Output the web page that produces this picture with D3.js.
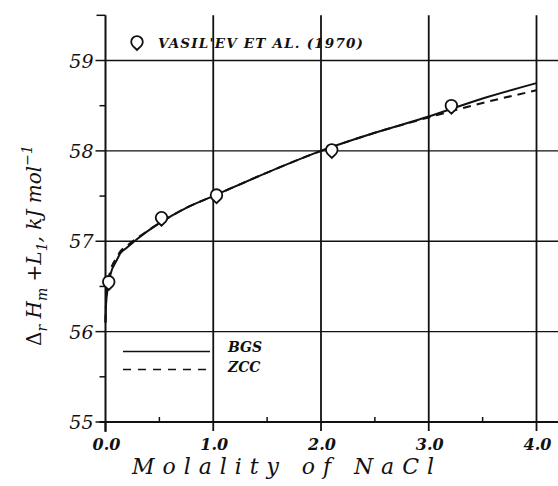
<!DOCTYPE html>
<html>
<head>
<meta charset="utf-8">
<script src="https://cdn.jsdelivr.net/npm/d3@7/dist/d3.min.js"></script>
<style>
  body { margin: 0; background: #fff; }
  svg { display: block; }
  text { font-family: "DejaVu Serif", "Liberation Serif", serif; fill: #111; }
</style>
</head>
<body>
<div id="chart"></div>
<script>
// molality of NaCl (mol/kg)
const molality = [0.0, 0.005, 0.02, 0.05, 0.1, 0.14, 0.2, 0.3, 0.5, 0.75, 1.0, 1.5, 2.0, 2.5, 3.0, 3.5, 4.0];
// BGS model, kJ/mol
const bgsValues = [56.1, 56.3, 56.47, 56.65, 56.78, 56.87, 56.93, 57.03, 57.2, 57.37, 57.5, 57.76, 58.0, 58.2, 58.38, 58.58, 58.75];
// ZCC model, kJ/mol
const zccValues = [56.1, 56.33, 56.52, 56.69, 56.81, 56.89, 56.95, 57.04, 57.2, 57.37, 57.5, 57.76, 58.0, 58.2, 58.37, 58.53, 58.67];
// Vasil'ev et al. (1970) experiment
const vasilevM = [0.03, 0.52, 1.03, 2.1, 3.21];
const vasilevH = [56.55, 57.26, 57.51, 58.01, 58.5];

const xTicks = [0, 1, 2, 3, 4];
const xTickLabels = ["0.0", "1.0", "2.0", "3.0", "4.0"];
const yTicks = [55, 56, 57, 58, 59];
const xMinor = [0.5, 1.5, 2.5, 3.5];
const yMinor = [55.5, 56.5, 57.5, 58.5];

const width = 558, height = 486;
const svg = d3.select("#chart").append("svg")
    .attr("width", width)
    .attr("height", height);

// scales
const x = d3.scaleLinear().domain([0, 4]).range([105.5, 536.5]);
const y = d3.scaleLinear().domain([55, 59]).range([422, 60.5]);
const yTop = y(59.5);

// gridlines
svg.selectAll(".hgrid")
    .data(yTicks.filter(d => d > 55))
    .join("line")
    .attr("x1", x(0)).attr("x2", width)
    .attr("y1", d => y(d)).attr("y2", d => y(d))
    .attr("stroke", "#111").attr("stroke-width", 1.4);

svg.selectAll(".vgrid")
    .data(xTicks.filter(d => d > 0))
    .join("line")
    .attr("x1", d => x(d)).attr("x2", d => x(d))
    .attr("y1", yTop).attr("y2", y(55))
    .attr("stroke", "#111").attr("stroke-width", 1.8);

// axes lines
svg.append("line")
    .attr("x1", x(0)).attr("x2", x(0))
    .attr("y1", yTop).attr("y2", y(55) + 10)
    .attr("stroke", "#111").attr("stroke-width", 2);
svg.append("line")
    .attr("x1", x(0) - 9).attr("x2", x(0))
    .attr("y1", yTop).attr("y2", yTop)
    .attr("stroke", "#111").attr("stroke-width", 1.5);
svg.append("line")
    .attr("x1", x(0) - 6).attr("x2", width)
    .attr("y1", y(55)).attr("y2", y(55))
    .attr("stroke", "#111").attr("stroke-width", 2);

// ticks
svg.selectAll(".ytick")
    .data(yTicks)
    .join("line")
    .attr("x1", x(0) - 10).attr("x2", x(0))
    .attr("y1", d => y(d)).attr("y2", d => y(d))
    .attr("stroke", "#111").attr("stroke-width", 1.5);
svg.selectAll(".yminor")
    .data(yMinor)
    .join("line")
    .attr("x1", x(0) - 6).attr("x2", x(0))
    .attr("y1", d => y(d)).attr("y2", d => y(d))
    .attr("stroke", "#111").attr("stroke-width", 1.5);
svg.selectAll(".xtick")
    .data(xTicks)
    .join("line")
    .attr("x1", d => x(d)).attr("x2", d => x(d))
    .attr("y1", y(55)).attr("y2", y(55) + 9)
    .attr("stroke", "#111").attr("stroke-width", 1.8);
svg.selectAll(".xminor")
    .data(xMinor)
    .join("line")
    .attr("x1", d => x(d)).attr("x2", d => x(d))
    .attr("y1", y(55) - 5).attr("y2", y(55))
    .attr("stroke", "#111").attr("stroke-width", 1.5);

// tick labels
svg.selectAll(".ylab")
    .data(yTicks)
    .join("text")
    .attr("x", x(0) - 12)
    .attr("y", d => y(d) + 7)
    .attr("text-anchor", "end")
    .attr("font-size", 19)
    .attr("font-style", "italic")
    .text(d => d);

svg.selectAll(".xlab")
    .data(xTicks)
    .join("text")
    .attr("x", d => x(d) + 1)
    .attr("y", 450)
    .attr("text-anchor", "middle")
    .attr("font-size", 16)
    .attr("font-style", "italic")
    .attr("font-weight", "bold")
    .text((d, i) => xTickLabels[i]);

// axis titles
svg.append("text")
    .attr("x", 132).attr("y", 474)
    .attr("font-size", 22)
    .attr("font-style", "italic")
    .attr("textLength", 302)
    .attr("lengthAdjust", "spacing")
    .text("Molality of NaCl");

const ytitle = svg.append("text")
    .attr("transform", "translate(41,346) rotate(-90)")
    .attr("font-size", 20)
    .attr("font-style", "italic");
ytitle.append("tspan").attr("font-style", "normal").text("Δ");
ytitle.append("tspan").attr("font-size", 14).attr("dy", 6).text("r");
ytitle.append("tspan").attr("dy", -6).text(" H");
ytitle.append("tspan").attr("font-size", 14).attr("dy", 6).text("m");
ytitle.append("tspan").attr("dy", -6).text(" +L");
ytitle.append("tspan").attr("font-size", 14).attr("dy", 6).text("1");
ytitle.append("tspan").attr("dy", -6).text(", kJ mol");
ytitle.append("tspan").attr("font-size", 14).attr("dy", -9).text("−1");

// curves
const line = d3.line()
    .x((d, i) => x(molality[i]))
    .y(d => y(d))
    .curve(d3.curveMonotoneX);

svg.append("path")
    .attr("d", line(bgsValues))
    .attr("fill", "none")
    .attr("stroke", "#111")
    .attr("stroke-width", 2);

svg.append("path")
    .attr("d", line(zccValues))
    .attr("fill", "none")
    .attr("stroke", "#111")
    .attr("stroke-width", 2)
    .attr("stroke-dasharray", "8,6");

// teardrop marker
const dropPath = "M0,8 L-4.2,3.9 A5.8,5.8 0 1 1 4.2,3.9 Z";
svg.selectAll(".vas")
    .data(vasilevM)
    .join("path")
    .attr("d", dropPath)
    .attr("transform", (d, i) => `translate(${x(d)},${y(vasilevH[i])})`)
    .attr("fill", "#fff")
    .attr("stroke", "#111")
    .attr("stroke-width", 1.8);

// legend
svg.append("path")
    .attr("d", dropPath)
    .attr("transform", "translate(137,42)")
    .attr("fill", "#fff")
    .attr("stroke", "#111")
    .attr("stroke-width", 1.8);
svg.append("text")
    .attr("x", 158).attr("y", 48)
    .attr("font-size", 13.5)
    .attr("font-style", "italic")
    .attr("font-weight", "bold")
    .attr("textLength", 205)
    .attr("lengthAdjust", "spacing")
    .text("VASIL'EV ET AL. (1970)");

svg.append("line")
    .attr("x1", 123).attr("x2", 210)
    .attr("y1", 351.5).attr("y2", 351.5)
    .attr("stroke", "#111").attr("stroke-width", 1.5);
svg.append("line")
    .attr("x1", 123).attr("x2", 210)
    .attr("y1", 369.5).attr("y2", 369.5)
    .attr("stroke", "#111").attr("stroke-width", 1.5)
    .attr("stroke-dasharray", "8,7");
svg.append("text")
    .attr("x", 228).attr("y", 352)
    .attr("font-size", 14).attr("font-style", "italic").attr("font-weight", "bold")
    .text("BGS");
svg.append("text")
    .attr("x", 228).attr("y", 372)
    .attr("font-size", 14).attr("font-style", "italic").attr("font-weight", "bold")
    .text("ZCC");
</script>
</body>
</html>
